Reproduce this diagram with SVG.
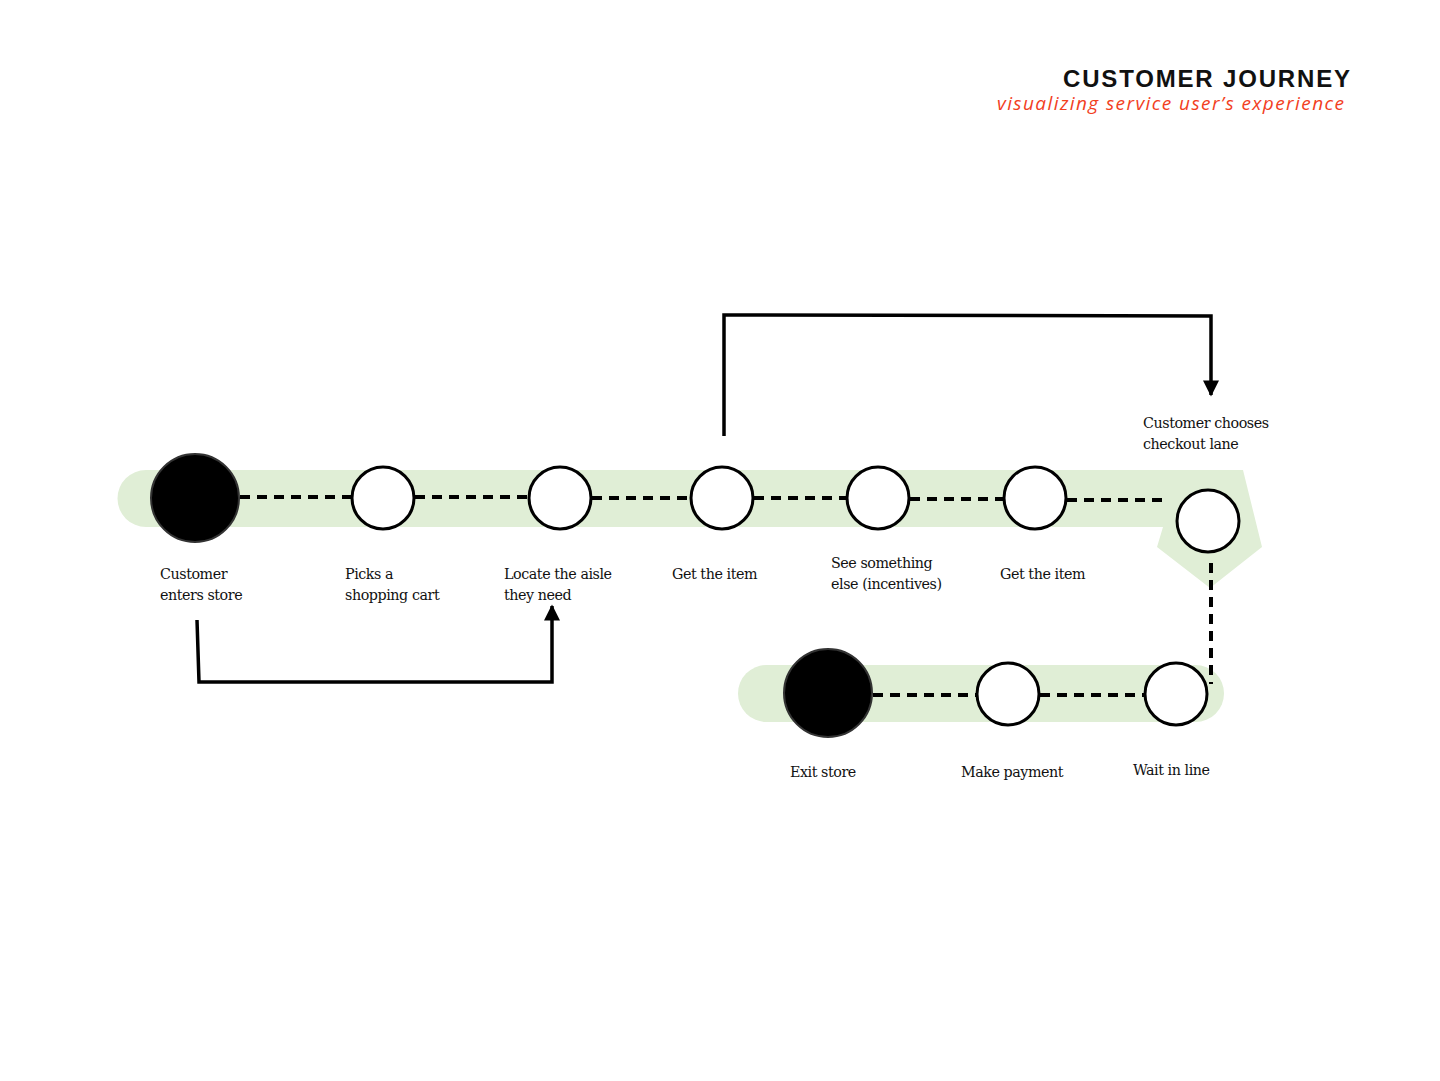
<svg xmlns="http://www.w3.org/2000/svg" width="1440" height="1081" viewBox="0 0 1440 1081">
<style>
.band{fill:#e0eed6}
.node{fill:#fff;stroke:#000;stroke-width:3}
.start{fill:#000;stroke:#333;stroke-width:2}
.dash{stroke:#000;stroke-width:4;stroke-dasharray:10 7;fill:none}
.conn{stroke:#000;stroke-width:3.5;fill:none}
.lbl{font-family:"DejaVu Serif","Liberation Serif",serif;font-size:14.3px;fill:#111;letter-spacing:-0.45px}
.title{font-family:"Liberation Sans",Arial,sans-serif;font-weight:bold;font-size:24px;fill:#111}
.sub{font-family:"Open Sans","Liberation Sans",sans-serif;font-style:italic;font-size:19px;fill:#f2401e}
</style>
<defs>
<marker id="arr" viewBox="0 0 10 10" refX="9" refY="5" markerWidth="5" markerHeight="4.6" orient="auto" markerUnits="strokeWidth">
<path d="M0,0 L10,5 L0,10 z" fill="#000"/>
</marker>
</defs>
<rect width="1440" height="1081" fill="#fff"/>
<text class="title" x="1350" y="87" text-anchor="end" textLength="287">CUSTOMER JOURNEY</text>
<text class="sub" x="1344" y="110" text-anchor="end" textLength="347">visualizing service user’s experience</text>
<g id="bands">
<path class="band" d="M146,470 L1243,470 L1262,547 L1210,588 L1157,547 L1163,527 L146,527 A28.5,28.5 0 0 1 146,470 Z"/>
<rect class="band" x="738" y="665" width="486" height="57" rx="28.5"/>
</g>
<g id="connectors">
<line class="dash" x1="240" y1="497" x2="352" y2="497"/>
<line class="dash" x1="415" y1="497" x2="529" y2="497"/>
<line class="dash" x1="592" y1="498" x2="691" y2="498"/>
<line class="dash" x1="754" y1="498" x2="847" y2="498"/>
<line class="dash" x1="910" y1="499" x2="1004" y2="499"/>
<line class="dash" x1="1067" y1="500" x2="1166" y2="500"/>
<line class="dash" x1="1211" y1="563" x2="1211" y2="684"/>
<line class="dash" x1="873" y1="695" x2="977" y2="695"/>
<line class="dash" x1="1040" y1="695" x2="1145" y2="695"/>
<polyline class="conn" points="197,620 199,682 552,682 552,606" marker-end="url(#arr)"/>
<polyline class="conn" points="724,436 724,315 1211,316 1211,395" marker-end="url(#arr)"/>
</g>
<g id="n1"><circle class="start" cx="195" cy="498" r="44"/><text class="lbl" x="160" y="579">Customer</text><text class="lbl" x="160" y="600">enters store</text></g>
<g id="n2"><circle class="node" cx="383" cy="498" r="31"/><text class="lbl" x="345" y="579">Picks a</text><text class="lbl" x="345" y="600">shopping cart</text></g>
<g id="n3"><circle class="node" cx="560" cy="498" r="31"/><text class="lbl" x="504" y="579">Locate the aisle</text><text class="lbl" x="504" y="600">they need</text></g>
<g id="n4"><circle class="node" cx="722" cy="498" r="31"/><text class="lbl" x="672" y="579">Get the item</text></g>
<g id="n5"><circle class="node" cx="878" cy="498" r="31"/><text class="lbl" x="831" y="568">See something</text><text class="lbl" x="831" y="589">else (incentives)</text></g>
<g id="n6"><circle class="node" cx="1035" cy="498" r="31"/><text class="lbl" x="1000" y="579">Get the item</text></g>
<g id="n7"><circle class="node" cx="1208" cy="521" r="31"/><text class="lbl" x="1143" y="428">Customer chooses</text><text class="lbl" x="1143" y="449">checkout lane</text></g>
<g id="n8"><circle class="node" cx="1176" cy="694" r="31"/><text class="lbl" x="1133" y="775">Wait in line</text></g>
<g id="n9"><circle class="node" cx="1008" cy="694" r="31"/><text class="lbl" x="961" y="777">Make payment</text></g>
<g id="n10"><circle class="start" cx="828" cy="693" r="44"/><text class="lbl" x="790" y="777">Exit store</text></g>
</svg>
